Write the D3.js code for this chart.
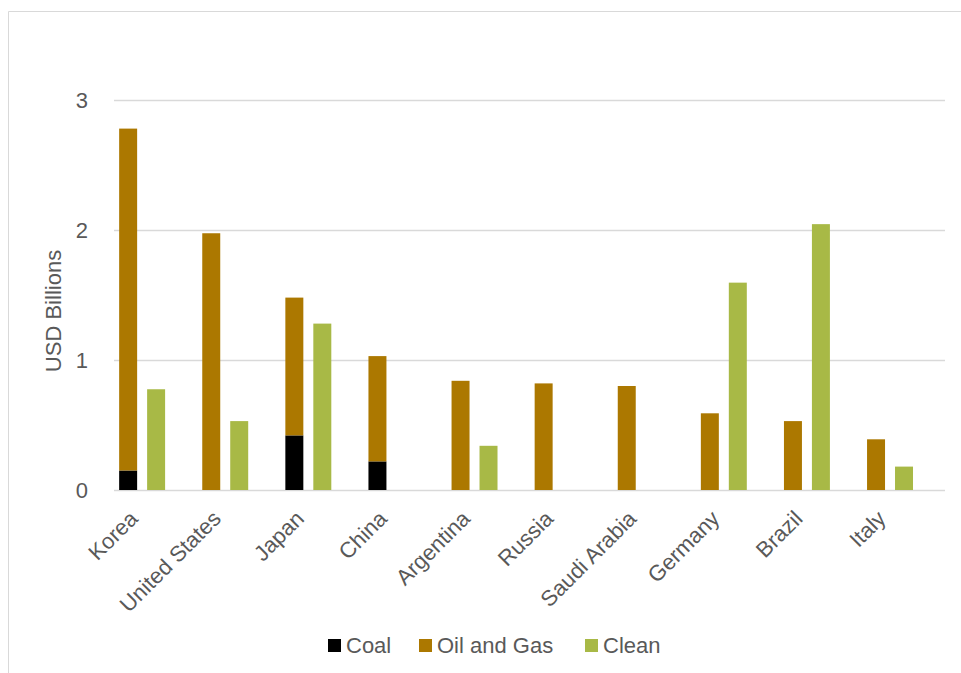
<!DOCTYPE html>
<html>
<head>
<meta charset="utf-8">
<script src="https://cdn.jsdelivr.net/npm/d3@7"></script>
<style>
  html, body { margin: 0; padding: 0; background: #fff; }
  svg { display: block; }
  text { font-family: "Liberation Sans", Arial, Helvetica, sans-serif; fill: #595959; }
</style>
</head>
<body>
<svg id="chart" width="961" height="673"></svg>
<script>
const categories = ["Korea", "United States", "Japan", "China", "Argentina", "Russia", "Saudi Arabia", "Germany", "Brazil", "Italy"];
const coal   = [0.15, 0, 0.42, 0.22, 0, 0, 0, 0, 0, 0];
const oilGas = [2.63, 1.975, 1.06, 0.81, 0.84, 0.82, 0.80, 0.59, 0.53, 0.39];
const clean  = [0.775, 0.53, 1.28, 0, 0.34, 0, 0, 1.595, 2.045, 0.18];
const yTicks = [0, 1, 2, 3];
const seriesNames = ["Coal", "Oil and Gas", "Clean"];
const seriesColors = ["#000000", "#AC7800", "#A8B946"];

const svg = d3.select("#chart");

// frame
svg.append("line").attr("x1", 8.5).attr("x2", 961).attr("y1", 11.5).attr("y2", 11.5)
  .attr("stroke", "#d9d9d9").attr("stroke-width", 1);
svg.append("line").attr("x1", 8.5).attr("x2", 8.5).attr("y1", 11.5).attr("y2", 673)
  .attr("stroke", "#d9d9d9").attr("stroke-width", 1);

const x = d3.scaleBand().domain(categories).range([114, 945]).padding(0);
const bw = x.bandwidth();
const inner = d3.scaleBand().domain(["stack", "clean"])
  .range([bw * 0.062, bw * 0.615]).paddingInner(0.357).paddingOuter(0);
const y = d3.scaleLinear().domain([0, 3]).range([490, 100]);

// gridlines
svg.append("g").selectAll("line").data(yTicks).join("line")
  .attr("x1", 114).attr("x2", 945)
  .attr("y1", d => Math.round(y(d)) + 0.5).attr("y2", d => Math.round(y(d)) + 0.5)
  .attr("stroke", "#d9d9d9").attr("stroke-width", 1.5);

// y tick labels
svg.append("g").selectAll("text").data(yTicks).join("text")
  .attr("x", 88).attr("y", d => y(d)).attr("dy", "0.36em")
  .attr("text-anchor", "end").attr("font-size", 22).text(d => d);

// y axis title
svg.append("text")
  .attr("transform", "translate(61,311) rotate(-90)")
  .attr("text-anchor", "middle").attr("font-size", 22).text("USD Billions");

// stacked data
const rows = categories.map((c, i) => ({ cat: c, coal: coal[i], oilGas: oilGas[i], clean: clean[i] }));
const stack = d3.stack().keys(["coal", "oilGas"])(rows);

const bars = svg.append("g");
stack.forEach((layer, li) => {
  bars.append("g").attr("fill", seriesColors[li])
    .selectAll("rect").data(layer.filter(d => d[1] - d[0] > 0)).join("rect")
    .attr("x", d => x(d.data.cat) + inner("stack"))
    .attr("width", inner.bandwidth())
    .attr("y", d => y(d[1]))
    .attr("height", d => y(d[0]) - y(d[1]));
});
bars.append("g").attr("fill", seriesColors[2])
  .selectAll("rect").data(rows.filter(d => d.clean > 0)).join("rect")
  .attr("x", d => x(d.cat) + inner("clean"))
  .attr("width", inner.bandwidth())
  .attr("y", d => y(d.clean))
  .attr("height", d => y(0) - y(d.clean));

// x labels
const groupCenter = c => x(c) + (inner("stack") + inner("clean") + inner.bandwidth()) / 2;
svg.append("g").selectAll("text").data(categories).join("text")
  .attr("transform", c => `translate(${groupCenter(c) - 3},520) rotate(-45)`)
  .attr("text-anchor", "end").attr("font-size", 22).text(c => c);

// legend
const legendX = [328, 419, 585];
const lg = svg.append("g");
seriesNames.forEach((s, i) => {
  lg.append("rect").attr("x", legendX[i]).attr("y", 639).attr("width", 13).attr("height", 13)
    .attr("fill", seriesColors[i]);
  lg.append("text").attr("x", legendX[i] + 18).attr("y", 653)
    .attr("font-size", 22).text(s);
});
</script>
</body>
</html>
